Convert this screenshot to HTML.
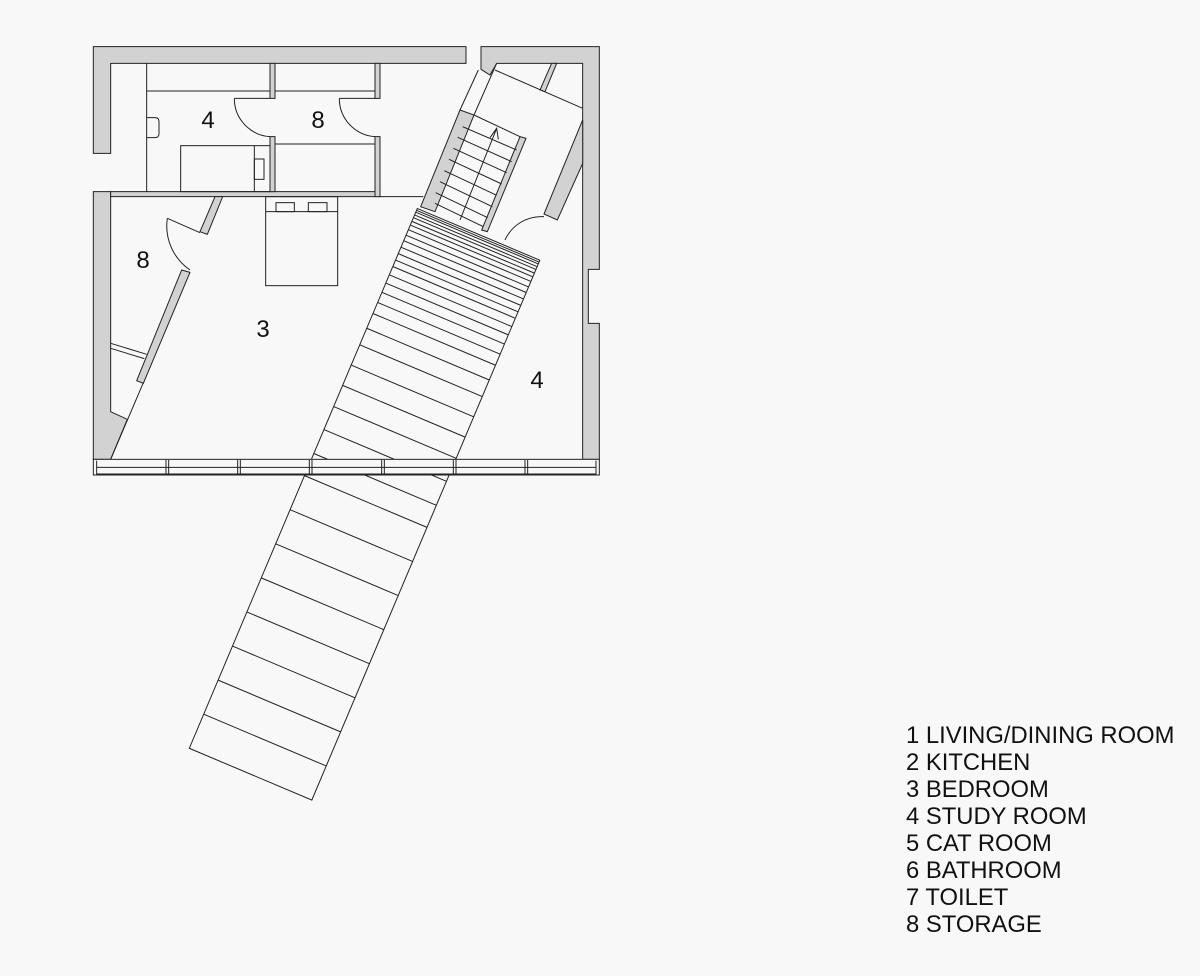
<!DOCTYPE html>
<html><head><meta charset="utf-8"><style>
html,body{margin:0;padding:0;background:#f8f8f8;}
svg{display:block;}
.l{font-family:"Liberation Sans",sans-serif;font-size:23.8px;fill:#111;}
.n{font-family:"Liberation Sans",sans-serif;font-size:24px;fill:#111;text-anchor:middle;}
</style></head><body>
<svg width="1200" height="976" viewBox="0 0 1200 976" xmlns="http://www.w3.org/2000/svg">
<rect width="1200" height="976" fill="#f8f8f8"/>
<g transform="translate(189.3,748.3) rotate(-67.1)" stroke="#222" stroke-width="1" fill="none">
<rect x="0" y="0" width="586" height="133" fill="#f8f8f8"/>
<path d="M37,0V133M74,0V133M111,0V133M148,0V133M185,0V133M222,0V133M259,0V133M296,0V133M320,0V133M346,0V133M371,0V133M394,0V133M416,0V133M438,0V133M456,0V133M472,0V133M484,0V133M495,0V133M505,0V133M514,0V133M523,0V133M530,0V133M537,0V133M544,0V133M551,0V133M557,0V133M563,0V133M568,0V133M572,0V133M576,0V133M579,0V133M582,0V133M584,0V133"/>
</g>
<g transform="translate(90,40) scale(0.33333)" stroke="#222" stroke-width="3" fill="none" stroke-linejoin="miter">
<g fill="#d2d2d2">
<polygon points="10,20 1128,20 1128,70 62,70 62,340 10,340"/>
<polygon points="1173,20 1528,20 1528,688 1495,688 1495,850 1528,850 1528,1258 1478,1258 1478,70 1220,70 1200,105 1173,88"/>
<polygon points="10,455 62,455 62,1115 112,1138 62,1258 10,1258"/>
<polygon points="62,455 870,455 870,470 62,470"/>
<polygon points="540,70 555,70 555,175 540,175"/>
<polygon points="540,290 555,290 555,455 540,455"/>
<polygon points="855,70 870,70 870,175 855,175"/>
<polygon points="855,290 870,290 870,470 855,470"/>
<polygon points="375,470 398,470 352,583 330,575"/>
<polygon points="275,690 300,697 160,1030 140,1022"/>
<polygon points="1110,210 1152,225 1035,515 992,500"/>
<polygon points="1290,290 1308,295 1192,575 1175,570"/>
<polygon points="1385,70 1400,70 1365,155 1350,150"/>
<polygon points="1478,240 1362,522 1402,540 1478,370"/>
</g>
<path d="M170,70V455M170,153H540M555,153H855M555,312H855"/>
<rect x="272" y="317" width="268" height="138"/>
<path d="M493,317V455"/>
<rect x="493" y="357" width="29" height="61"/>
<path d="M170,233H195Q207,233 207,245V281Q207,293 195,293H170"/>
<path d="M433,175H540M433,175A115,115 0 0 0 540,290"/>
<path d="M748,175H855M748,175A115,115 0 0 0 855,290"/>
<path d="M870,470H1000"/>
<rect x="527" y="470" width="216" height="267"/>
<path d="M527,515H743"/>
<rect x="558" y="488" width="55" height="27"/>
<rect x="655" y="488" width="56" height="27"/>
<path d="M232,535L330,578M232,535A160,160 0 0 0 300,690"/>
<path d="M62,910L170,943M62,925L163,956"/>
<path d="M160,1028L62,1258"/>
<path d="M1165,90L1110,210M1220,70L1152,225M1215,90L1478,205M1290,290L1152,225"/>
<path d="M1118,260L1280,330M1103,292L1265,365M1090,325L1250,398M1077,358L1235,432M1063,392L1220,466M1050,425L1207,500M1037,458L1193,533M1035,490L1180,560"/>
<path d="M1110,540L1220,265M1200,293L1220,265L1225,298"/>
<path d="M1245,600A120,120 0 0 1 1362,530"/>
<g fill="#f8f8f8">
<rect x="10" y="1258" width="1518" height="47"/>
</g>
<path d="M20,1262V1302H1518V1262M20,1282H1518"/>
<path d="M228,1260V1305M236,1260V1305M443,1260V1305M451,1260V1305M658,1260V1305M666,1260V1305M875,1260V1305M883,1260V1305M1090,1260V1305M1098,1260V1305M1305,1260V1305M1313,1260V1305"/>
</g>
<text class="n" x="208" y="128">4</text>
<text class="n" x="318" y="128">8</text>
<text class="n" x="143" y="268">8</text>
<text class="n" x="263" y="337">3</text>
<text class="n" x="537" y="388">4</text>
<text class="l" x="906" y="743">1 LIVING/DINING ROOM</text>
<text class="l" x="906" y="770">2 KITCHEN</text>
<text class="l" x="906" y="797">3 BEDROOM</text>
<text class="l" x="906" y="824">4 STUDY ROOM</text>
<text class="l" x="906" y="851">5 CAT ROOM</text>
<text class="l" x="906" y="878">6 BATHROOM</text>
<text class="l" x="906" y="905">7 TOILET</text>
<text class="l" x="906" y="932">8 STORAGE</text>
</svg>
</body></html>
